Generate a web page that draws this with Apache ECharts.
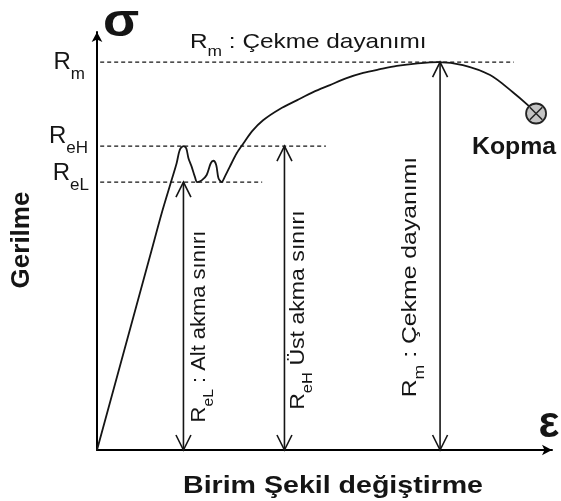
<!DOCTYPE html>
<html>
<head>
<meta charset="utf-8">
<script src="https://cdn.jsdelivr.net/npm/echarts@6/dist/echarts.min.js"></script>
<style>
  html, body { margin: 0; padding: 0; background: #fff; }
  #chart { width: 561px; height: 501px; }
</style>
</head>
<body>
<div id="chart"></div>
<script>
// Stress–strain diagram of a ductile steel (values in % of the axis range)

// Tensile test curve: strain (x) and stress (y)
const strain = [0, 12.0, 14.2, 16.4, 17.5, 18.2, 19.0, 19.6, 20.1, 20.8, 21.5, 22.0, 23.0, 24.1,
  25.0, 25.6, 26.2, 26.7, 27.4, 28.1, 29.2, 30.7, 32.2, 34.1, 36.5, 40.2, 44.0, 47.5, 51.2,
  54.7, 58.5, 62.2, 65.9, 70.5, 75.0, 80.4, 86.4, 91.4, 94.7, 96.5];
const stress = [0, 47.8, 56.6, 64.6, 68.6, 71.8, 72.7, 72.2, 69.8, 67.8, 65.4, 64.1, 64.5, 65.8,
  68.6, 69.2, 68.2, 65.0, 64.1, 65.4, 67.8, 71.0, 73.4, 76.3, 78.9, 81.6, 83.7, 85.6, 87.3,
  88.9, 90.2, 91.1, 91.9, 92.5, 92.8, 92.1, 89.7, 85.6, 82.5, 80.5];

// Characteristic stress levels: tensile strength, upper and lower yield strength
const levelValues = [92.8, 72.7, 64.1];
const levelTicks = ['{r|R}{s|m}', '{r|R}{s|eH}', '{r|R}{s|eL}'];
// strain where each dashed guide line stops
const guideEnds = [91.6, 50.3, 36.3];
// strain where each level is dimensioned with a double arrow
const arrowStrain = [75.4, 41.2, 19.0];
const arrowLabels = [
  '{r|R}{s|m}{r| : Çekme dayanımı}',
  '{r|R}{s|eH}{r| Üst akma sınırı}',
  '{r|R}{s|eL}{r| : Alt akma sınırı}'
];

const titleTop = '{r|R}{s|m}{r| : Çekme dayanımı}';
const axisSymbols = ['ε', 'σ'];
const axisTitles = ['Birim Şekil değiştirme', 'Gerilme'];
const fractureLabel = 'Kopma';

const INK = '#151515';
const FONT = '"Liberation Sans", Arial, Helvetica, sans-serif';

// ---- text helpers -------------------------------------------------------
function richStyle(size, subSize, drop, weight) {
  return {
    r: { fontSize: size, fontFamily: FONT, fontWeight: weight, fill: INK, verticalAlign: 'middle' },
    s: { fontSize: subSize, fontFamily: FONT, fontWeight: weight, fill: INK, verticalAlign: 'middle',
         padding: [drop * 2, 0, 0, 0] }
  };
}
function textEl(x, y, text, o) {
  const weight = o.weight || 'normal';
  const style = {
    text: text, fill: INK, fontFamily: FONT, fontSize: o.size, fontWeight: weight,
    align: o.align || 'center', verticalAlign: 'middle'
  };
  if (o.sub) style.rich = richStyle(o.size, o.sub, o.drop, weight);
  return { type: 'text', x: x, y: y, rotation: o.rot || 0, scaleX: o.sx || 1, scaleY: 1, style: style };
}

// label placement (pixel offsets from the anchors they belong to)
const levelTickLayout = [
  { dx: -12, dy: 0 }, { dx: -9, dy: -10 }, { dx: -8, dy: -9 }
];
const arrowLabelLayout = [
  { dx: -30, dy: 21, sx: 1.18 },
  { dx: 13.7, dy: 12, sx: 1.10 },
  { dx: 15.7, dy: 10.5, sx: 1.045 }
];

const chart = echarts.init(document.getElementById('chart'), null, { renderer: 'canvas' });

const axisBase = {
  type: 'value', min: 0, max: 100,
  axisLine: { show: true, onZero: false, symbol: ['none', 'arrow'], symbolSize: [8, 10],
              lineStyle: { color: '#000', width: 2 } },
  axisTick: { show: false }, axisLabel: { show: false }, splitLine: { show: false }
};

const series = [];

// dashed guide lines of the stress levels
levelValues.forEach(function (lv, i) {
  series.push({
    type: 'line', silent: true, symbol: 'none', z: 2,
    data: [[0.7, lv], [guideEnds[i], lv]],
    lineStyle: { color: INK, width: 1.2, type: [4, 3] }
  });
});

// the stress–strain curve
series.push({
  type: 'line', silent: true, symbol: 'none', smooth: 0.3, z: 3,
  data: strain.map(function (x, i) { return [x, stress[i]]; }),
  lineStyle: { color: INK, width: 1.8 }
});

// double arrows dimensioning each level, with rotated captions
series.push({
  type: 'custom', silent: true, z: 4,
  data: arrowStrain.map(function (x, i) { return [x, levelValues[i]]; }),
  renderItem: function (params, api) {
    const i = params.dataIndex;
    const b = api.coord([api.value(0), 0]);
    const t = api.coord([api.value(0), api.value(1)]);
    const hw = 7.5, hl = 15;
    const st = function () { return { stroke: INK, lineWidth: 1.6, fill: null }; };
    const L = arrowLabelLayout[i];
    return {
      type: 'group', children: [
        { type: 'line', shape: { x1: b[0], y1: b[1], x2: t[0], y2: t[1] }, style: st() },
        { type: 'polyline', shape: { points: [[t[0] - hw, t[1] + hl], [t[0], t[1]], [t[0] + hw, t[1] + hl]] }, style: st() },
        { type: 'polyline', shape: { points: [[b[0] - hw, b[1] - hl], [b[0], b[1]], [b[0] + hw, b[1] - hl]] }, style: st() },
        textEl(t[0] + L.dx, (b[1] + t[1]) / 2 + L.dy, arrowLabels[i],
          { size: 21, sub: 15, drop: 10, rot: Math.PI / 2, sx: L.sx })
      ]
    };
  }
});

// fracture point
series.push({
  type: 'custom', silent: true, z: 5,
  data: [[strain[strain.length - 1], stress[stress.length - 1]]],
  renderItem: function (params, api) {
    const c = api.coord([api.value(0), api.value(1)]);
    const r = 10, k = 6.3;
    return {
      type: 'group', children: [
        { type: 'circle', shape: { cx: c[0], cy: c[1], r: r }, style: { fill: '#c4c4c4', stroke: '#222', lineWidth: 1.8 } },
        { type: 'line', shape: { x1: c[0] - k, y1: c[1] - k, x2: c[0] + k, y2: c[1] + k }, style: { stroke: '#222', lineWidth: 1.5 } },
        { type: 'line', shape: { x1: c[0] - k, y1: c[1] + k, x2: c[0] + k, y2: c[1] - k }, style: { stroke: '#222', lineWidth: 1.5 } },
        textEl(c[0] - 22, c[1] + 34, fractureLabel, { size: 23, weight: 'bold', sx: 1.08 })
      ]
    };
  }
});

// axis symbols, axis titles, level names and the heading
series.push({
  type: 'custom', silent: true, z: 6,
  data: [[0, 0]],
  renderItem: function (params, api) {
    const xEnd = api.coord([100, 0]);
    const yEnd = api.coord([0, 100]);
    const xMid = api.coord([50, 0]);
    const yMid = api.coord([0, 50]);
    const kids = [];
    kids.push(textEl(xEnd[0] - 3, xEnd[1] - 25, axisSymbols[0], { size: 44, weight: 'bold' }));
    kids.push(textEl(yEnd[0] + 24, yEnd[1] - 9, axisSymbols[1], { size: 46, weight: 'bold', sx: 1.15 }));
    kids.push(textEl(xMid[0] + 8.5, xMid[1] + 36, axisTitles[0], { size: 24, weight: 'bold', sx: 1.19 }));
    kids.push(textEl(yMid[0] - 75, yMid[1] - 1, axisTitles[1], { size: 26, weight: 'bold', rot: Math.PI / 2 }));
    levelValues.forEach(function (lv, i) {
      const p = api.coord([0, lv]);
      kids.push(textEl(p[0] + levelTickLayout[i].dx, p[1] + levelTickLayout[i].dy, levelTicks[i],
        { size: 24, sub: 17, drop: 12, align: 'right' }));
    });
    const h = api.coord([0, levelValues[0]]);
    kids.push(textEl(h[0] + 93, h[1] - 20, titleTop, { size: 21, sub: 15, drop: 10, align: 'left', sx: 1.16 }));
    return { type: 'group', children: kids };
  }
});

chart.setOption({
  animation: false,
  backgroundColor: '#fff',
  grid: { left: 97, right: 9, top: 32, bottom: 51, containLabel: false },
  xAxis: axisBase,
  yAxis: axisBase,
  series: series
});
</script>
</body>
</html>
